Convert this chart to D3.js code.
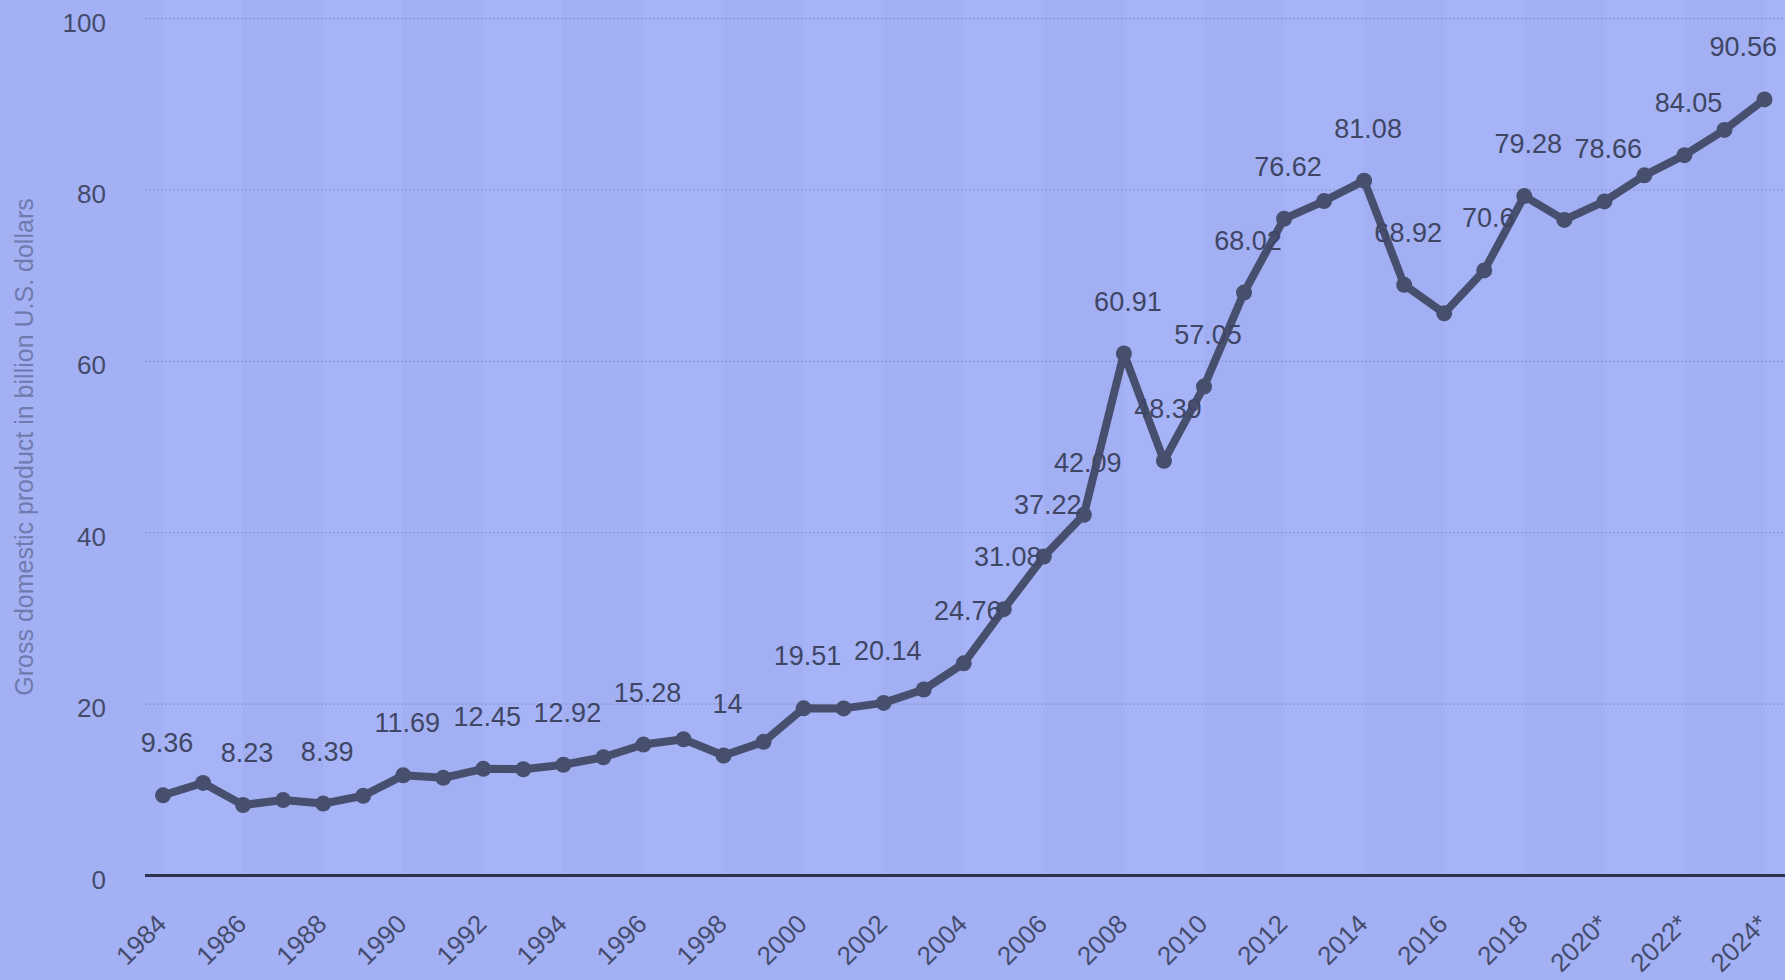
<!DOCTYPE html>
<html>
<head>
<meta charset="utf-8">
<script src="https://cdn.jsdelivr.net/npm/d3@7"></script>
<style>
  html, body { margin: 0; padding: 0; background: #a3b0f4; }
  svg { display: block; font-family: "Liberation Sans", Arial, Helvetica, sans-serif; }
</style>
</head>
<body>
<div id="chart"></div>
<script>
// GDP line chart, 1984 - 2024 (projections marked with *)

const years = ["1984", "1985", "1986", "1987", "1988", "1989", "1990", "1991", "1992", "1993",
  "1994", "1995", "1996", "1997", "1998", "1999", "2000", "2001", "2002", "2003",
  "2004", "2005", "2006", "2007", "2008", "2009", "2010", "2011", "2012", "2013",
  "2014", "2015", "2016", "2017", "2018", "2019", "2020*", "2021*", "2022*", "2023*", "2024*"];

const gdp = [9.36, 10.8, 8.23, 8.8, 8.39, 9.3, 11.69, 11.4, 12.45, 12.4,
  12.92, 13.8, 15.28, 15.9, 14, 15.6, 19.51, 19.5, 20.14, 21.7,
  24.76, 31.08, 37.22, 42.09, 60.91, 48.39, 57.05, 68.02, 76.62, 78.7,
  81.08, 68.92, 65.6, 70.6, 79.28, 76.5, 78.66, 81.7, 84.05, 87.0, 90.56];

// years whose value is printed above the dot
const labelledYears = ["1984", "1986", "1988", "1990", "1992", "1994", "1996", "1998", "2000", "2002",
  "2004", "2005", "2006", "2007", "2008", "2009", "2010", "2011", "2012", "2014",
  "2015", "2017", "2018", "2020*", "2022*", "2024*"];

const yTicks = [0, 20, 40, 60, 80, 100];
const xTickYears = years.filter((_, i) => i % 2 === 0);

const width = 1785;
const height = 980;
const plotLeft = 145;
const firstX = 163;
const lastX = 1764.5;
const yZero = 875.5;
const yTop = 18.5;

const data = years.map((y, i) => ({ year: y, value: gdp[i] }));

const x = d3.scalePoint()
  .domain(years)
  .range([firstX, lastX]);

const y = d3.scaleLinear()
  .domain([0, 100])
  .range([yZero, yTop]);

const svg = d3.select("#chart")
  .append("svg")
  .attr("width", width)
  .attr("height", height);

svg.append("rect")
  .attr("width", width)
  .attr("height", height)
  .attr("fill", "#a3b0f4");

// soft vertical stripes, two years wide
const stripes = xTickYears.map((yr, i) => ({ x0: x(yr), x1: i < xTickYears.length - 1 ? x(xTickYears[i + 1]) : width, light: i % 2 === 0 }));
svg.append("g")
  .selectAll("rect")
  .data(stripes)
  .join("rect")
  .attr("x", d => d.x0)
  .attr("y", 0)
  .attr("width", d => d.x1 - d.x0)
  .attr("height", yZero)
  .attr("fill", d => d.light ? "#a6b4f7" : "#a2aff3");

// grid lines
svg.append("g")
  .selectAll("line")
  .data(yTicks.filter(t => t > 0))
  .join("line")
  .attr("x1", plotLeft)
  .attr("x2", width)
  .attr("y1", d => y(d))
  .attr("y2", d => y(d))
  .attr("stroke", "#8591c6")
  .attr("stroke-width", 1)
  .attr("stroke-dasharray", "2,2");

// y tick labels
svg.append("g")
  .selectAll("text")
  .data(yTicks)
  .join("text")
  .attr("x", 106)
  .attr("y", d => y(d) + 13)
  .attr("text-anchor", "end")
  .attr("font-size", 26)
  .attr("fill", "#454c6b")
  .text(d => d);

// baseline
svg.append("line")
  .attr("x1", plotLeft)
  .attr("x2", width)
  .attr("y1", yZero)
  .attr("y2", yZero)
  .attr("stroke", "#2d3250")
  .attr("stroke-width", 3);

// x tick labels, rotated
svg.append("g")
  .selectAll("text")
  .data(xTickYears)
  .join("text")
  .attr("transform", d => `translate(${x(d) + 5},${yZero + 50}) rotate(-45)`)
  .attr("text-anchor", "end")
  .attr("font-size", 26)
  .attr("fill", "#454c6b")
  .text(d => d);

// y axis title
svg.append("text")
  .attr("transform", "translate(33,447) rotate(-90)")
  .attr("text-anchor", "middle")
  .attr("font-size", 25)
  .attr("fill", "#6f7aae")
  .text("Gross domestic product in billion U.S. dollars");

// the line
const line = d3.line()
  .x(d => x(d.year))
  .y(d => y(d.value));

svg.append("path")
  .datum(data)
  .attr("d", line)
  .attr("fill", "none")
  .attr("stroke", "#474f6e")
  .attr("stroke-width", 8)
  .attr("stroke-linejoin", "round");

svg.append("g")
  .selectAll("circle")
  .data(data)
  .join("circle")
  .attr("cx", d => x(d.year))
  .attr("cy", d => y(d.value))
  .attr("r", 8)
  .attr("fill", "#474f6e");

// value labels
const labels = svg.append("g")
  .selectAll("text")
  .data(data.filter(d => labelledYears.includes(d.year)))
  .join("text")
  .attr("x", d => x(d.year) + 4)
  .attr("y", d => y(d.value) - 43)
  .attr("text-anchor", "middle")
  .attr("font-size", 27)
  .attr("fill", "#3f4664")
  .text(d => d.value);

// keep the last label inside the frame
labels.each(function () {
  const box = this.getBBox();
  const over = box.x + box.width - 1777;
  if (over > 0) d3.select(this).attr("x", +d3.select(this).attr("x") - over);
});
</script>
</body>
</html>
